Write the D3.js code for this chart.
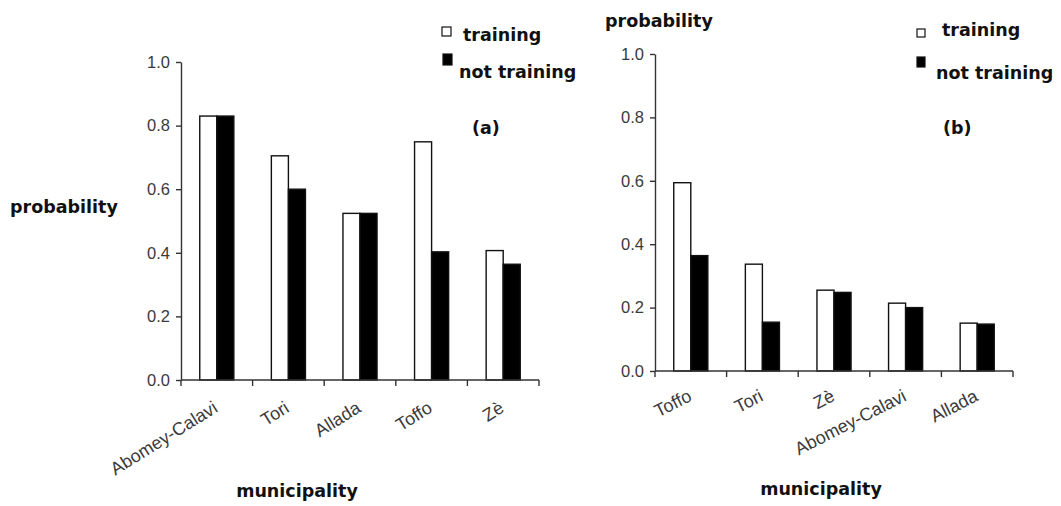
<!DOCTYPE html>
<html>
<head>
<meta charset="utf-8">
<script src="https://cdn.jsdelivr.net/npm/d3@7"></script>
<style>
  html, body { margin: 0; padding: 0; background: #fff; }
  svg { display: block; }
  .tick text { font-family: "Liberation Sans", Arial, sans-serif; }
  .title { font-family: "DejaVu Sans", sans-serif; font-weight: bold; fill: #111; }
</style>
</head>
<body>
<svg id="chart" width="1061" height="506"></svg>
<script>
// ---- data ----
const seriesNames = ["training", "not training"];
const yTicks = [0.0, 0.2, 0.4, 0.6, 0.8, 1.0];

const categoriesA = ["Abomey-Calavi", "Tori", "Allada", "Toffo", "Zè"];
const trainingA = [0.83, 0.705, 0.524, 0.749, 0.407];
const notTrainingA = [0.83, 0.60, 0.524, 0.403, 0.364];

const categoriesB = ["Toffo", "Tori", "Zè", "Abomey-Calavi", "Allada"];
const trainingB = [0.594, 0.337, 0.255, 0.214, 0.151];
const notTrainingB = [0.364, 0.154, 0.248, 0.200, 0.148];

const svg = d3.select("#chart");

function drawPanel(cfg, cats, tr, nt) {
  const g = svg.append("g");
  const x = d3.scaleBand().domain(cats).range([cfg.x0, cfg.x1]).paddingInner(0).paddingOuter(0);
  const bw = x.bandwidth();
  const xs = d3.scaleBand().domain(seriesNames).range([bw * 0.262, bw * 0.738]).padding(0);
  const y = d3.scaleLinear().domain([0, 1]).range([cfg.yBot, cfg.yTop]);

  const rows = cats.map((c, i) => ({ cat: c, vals: [tr[i], nt[i]] }));

  // bars
  const grp = g.selectAll("g.cat").data(rows).enter().append("g")
    .attr("transform", d => `translate(${x(d.cat)},0)`);
  grp.selectAll("rect").data(d => d.vals.map((v, k) => ({ s: seriesNames[k], v })))
    .enter().append("rect")
    .attr("x", d => xs(d.s))
    .attr("width", xs.bandwidth())
    .attr("y", d => y(d.v))
    .attr("height", d => y(0) - y(d.v))
    .attr("fill", d => d.s === "training" ? "#fff" : "#000")
    .attr("stroke", "#111")
    .attr("stroke-width", 1.4);

  // y axis
  const ya = g.append("g").attr("transform", `translate(${cfg.x0},0)`)
    .call(d3.axisLeft(y).tickValues(yTicks).tickFormat(d3.format(".1f")).tickSize(5).tickSizeOuter(0).tickPadding(6));
  ya.selectAll("path, line").attr("stroke", "#333").attr("stroke-width", 1.4);
  ya.selectAll("text").attr("font-size", 16.5).attr("fill", "#3a3a3a");

  // x axis line and boundary ticks
  g.append("line").attr("x1", cfg.x0).attr("x2", cfg.x1)
    .attr("y1", y(0)).attr("y2", y(0)).attr("stroke", "#333").attr("stroke-width", 1.4);
  const bounds = cats.map(c => x(c)).concat([x.range()[1]]);
  g.selectAll("line.xt").data(bounds).enter().append("line")
    .attr("x1", d => d).attr("x2", d => d)
    .attr("y1", y(0)).attr("y2", y(0) + 6)
    .attr("stroke", "#333").attr("stroke-width", 1.4);

  // x labels
  g.selectAll("text.xl").data(cats).enter().append("text")
    .attr("class", "xl")
    .attr("font-family", "Liberation Sans, Arial, sans-serif")
    .attr("font-size", cfg.xFont)
    .attr("fill", "#3a3a3a")
    .attr("text-anchor", "end")
    .attr("transform", d => `translate(${x(d) + bw / 2 + 2},${y(0) + cfg.labelOff}) rotate(${cfg.angle})`)
    .text(d => d);

  // titles
  g.append("text").attr("class", "title").attr("font-size", 17.5)
    .attr("x", cfg.yTitle[0]).attr("y", cfg.yTitle[1]).text("probability");
  g.append("text").attr("class", "title").attr("font-size", 17.5)
    .attr("text-anchor", "middle")
    .attr("x", cfg.xTitle[0]).attr("y", cfg.xTitle[1]).text("municipality");
  g.append("text").attr("class", "title").attr("font-size", 17.5)
    .attr("x", cfg.panel[0]).attr("y", cfg.panel[1]).text(cfg.panelLabel);

  // legend
  const lg = g.append("g");
  lg.selectAll("rect").data(seriesNames).enter().append("rect")
    .attr("x", (d, i) => cfg.legend[i].sx)
    .attr("y", (d, i) => cfg.legend[i].sy)
    .attr("width", cfg.legendSq).attr("height", (d, i) => i === 0 ? cfg.legendSq : cfg.legendSq + 2)
    .attr("fill", d => d === "training" ? "#fff" : "#000")
    .attr("stroke", "#111").attr("stroke-width", 1.2);
  lg.selectAll("text").data(seriesNames).enter().append("text")
    .attr("class", "title").attr("font-size", 17.5)
    .attr("x", (d, i) => cfg.legend[i].tx)
    .attr("y", (d, i) => cfg.legend[i].ty)
    .text(d => d);
}

drawPanel({
  x0: 181, x1: 539, yTop: 62, yBot: 380, labelOff: 31, angle: -32, xFont: 18,
  yTitle: [10, 213], xTitle: [297, 497], panel: [472, 134], panelLabel: "(a)",
  legendSq: 9,
  legend: [{ sx: 442, sy: 27, tx: 463, ty: 41 }, { sx: 443, sy: 54, tx: 459, ty: 78 }]
}, categoriesA, trainingA, notTrainingA);

drawPanel({
  x0: 655, x1: 1013, yTop: 54, yBot: 371, labelOff: 29, angle: -27, xFont: 18,
  yTitle: [605, 27], xTitle: [821, 495], panel: [943, 134], panelLabel: "(b)",
  legendSq: 8,
  legend: [{ sx: 917, sy: 29, tx: 942, ty: 36 }, { sx: 917, sy: 57, tx: 936, ty: 79 }]
}, categoriesB, trainingB, notTrainingB);
</script>
</body>
</html>
